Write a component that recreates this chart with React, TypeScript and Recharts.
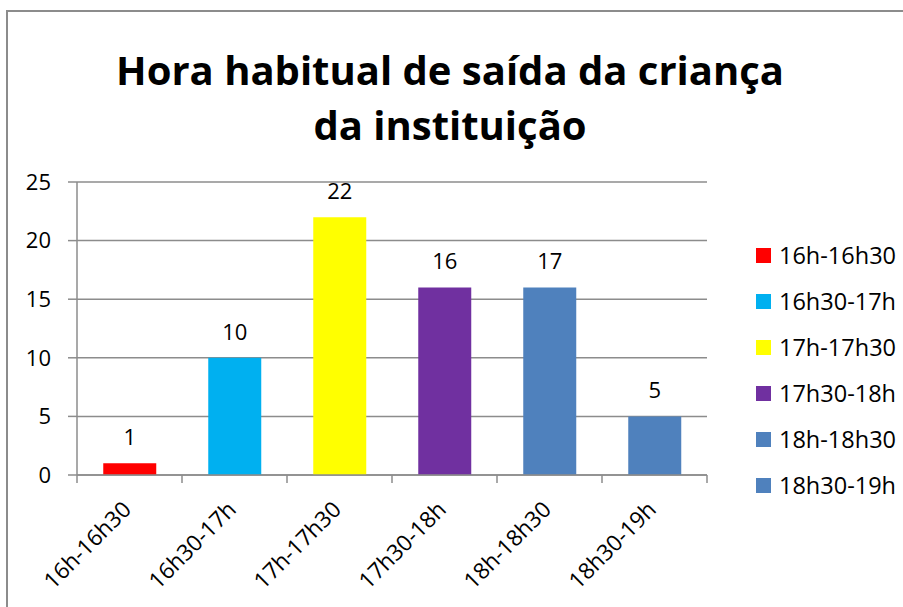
import React from 'react';
import { BarChart, Bar, XAxis, YAxis, CartesianGrid, Cell, LabelList } from 'recharts';

const categories = ['16h-16h30', '16h30-17h', '17h-17h30', '17h30-18h', '18h-18h30', '18h30-19h'];
const counts = [1, 10, 22, 16, 16, 5];
const valueLabels = ['1', '10', '22', '16', '17', '5'];
const colors = ['#FF0000', '#00B0F0', '#FFFF00', '#7030A0', '#4F81BD', '#4F81BD'];
const yTicks = [0, 5, 10, 15, 20, 25];
const titleLines = ['Hora habitual de saída da criança', 'da instituição'];

const data = categories.map((c, i) => ({ name: c, value: counts[i], label: valueLabels[i] }));

const FONT = '"Open Sans", "DejaVu Sans", sans-serif';
const GRAY = '#8C8C8C';
const W = 903;
const H = 607;
const MARGIN = { top: 182, right: 196, bottom: 12, left: 27 };
const Y_AXIS_W = 50;
const X_AXIS_H = 120;
const HALF_BAND = (W - MARGIN.right - MARGIN.left - Y_AXIS_W) / categories.length / 2;

const XTick = (props: any) => {
  const { x, y, payload, index } = props;
  const last = index === categories.length - 1;
  return (
    <g>
      <line x1={x - HALF_BAND} y1={y} x2={x - HALF_BAND} y2={y + 8} stroke={GRAY} strokeWidth={1.5} />
      {last && <line x1={x + HALF_BAND} y1={y} x2={x + HALF_BAND} y2={y + 8} stroke={GRAY} strokeWidth={1.5} />}
      <g transform={`translate(${x + 3},${y + 36}) rotate(-45)`}>
        <text x={0} y={0} textAnchor="end" fill="#000" fontSize={22.5} fontFamily={FONT}>
          {payload.value}
        </text>
      </g>
    </g>
  );
};

export default function App() {
  return (
    <div style={{ position: 'fixed', left: 0, top: 0, width: W, height: H, overflow: 'hidden', background: '#fff', fontFamily: FONT }}>
      <div style={{ position: 'absolute', left: 6, top: 10, right: 0, bottom: 0, borderLeft: `2px solid ${GRAY}`, borderTop: `2px solid ${GRAY}` }} />
      <div style={{ position: 'absolute', left: 0, width: 900, top: 42, textAlign: 'center', fontWeight: 700, fontSize: 40, lineHeight: '55px', color: '#000' }}>
        {titleLines.map((t) => (
          <div key={t}>{t}</div>
        ))}
      </div>
      <div style={{ position: 'absolute', left: 0, top: 0 }}>
        <BarChart width={W} height={H} data={data} margin={MARGIN} barCategoryGap="25%">
          <CartesianGrid horizontal vertical={false} stroke={GRAY} strokeWidth={1.5} />
          <XAxis
            dataKey="name"
            height={X_AXIS_H}
            axisLine={{ stroke: GRAY, strokeWidth: 1.5 }}
            tickLine={false}
            tickSize={0}
            tickMargin={0}
            interval={0}
            tick={<XTick />}
          />
          <YAxis
            width={Y_AXIS_W}
            domain={[0, 25]}
            ticks={yTicks}
            interval={0}
            axisLine={{ stroke: GRAY, strokeWidth: 1.5 }}
            tickLine={{ stroke: GRAY, strokeWidth: 1.5 }}
            tickSize={9}
            tickMargin={17}
            tick={{ fill: '#000', fontSize: 22, fontFamily: FONT }}
          />
          <Bar dataKey="value" isAnimationActive={false}>
            {data.map((d, i) => (
              <Cell key={d.name} fill={colors[i]} />
            ))}
            <LabelList dataKey="label" position="top" offset={18} fill="#000" fontSize={22} fontFamily={FONT} />
          </Bar>
        </BarChart>
      </div>
      {categories.map((c, i) => (
        <div key={c} style={{ position: 'absolute', left: 756, top: 232 + i * 46, height: 46, display: 'flex', alignItems: 'center' }}>
          <div style={{ width: 15, height: 15, background: colors[i], marginRight: 8 }} />
          <span style={{ fontSize: 23.5, color: '#000', whiteSpace: 'nowrap' }}>{c}</span>
        </div>
      ))}
    </div>
  );
}
